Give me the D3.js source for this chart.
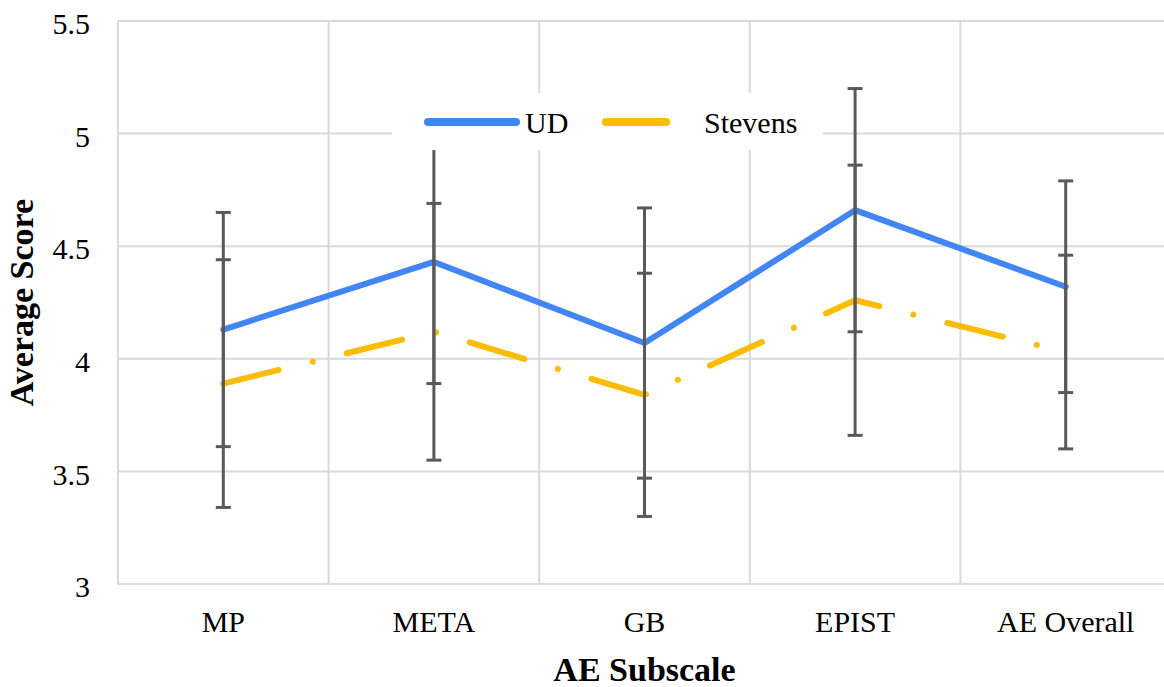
<!DOCTYPE html>
<html>
<head>
<meta charset="utf-8">
<script src="https://cdn.jsdelivr.net/npm/d3@7"></script>
<style>
    body { margin: 0; background: #fff; }
    svg { display: block; }
    svg text { font-family: 'Liberation Serif', 'Times New Roman', serif; fill: #000; }
</style>
</head>
<body>
<svg id="canvas" width="1164" height="687"></svg>
<script>
let categories = ['MP', 'META', 'GB', 'EPIST', 'AE Overall']
let udMeans = [4.13, 4.43, 4.07, 4.66, 4.32]
let udErrors = [0.52, 0.54, 0.60, 0.54, 0.47]
let stevensMeans = [3.89, 4.12, 3.84, 4.26, 4.03]
let stevensErrors = [0.55, 0.57, 0.54, 0.60, 0.43]
let yTicks = [3, 3.5, 4, 4.5, 5, 5.5]
let seriesNames = ['UD', 'Stevens']

let canvas = d3.select('#canvas')

let plotLeft = 118
let plotRight = 1171
let plotTop = 21
let plotBottom = 584

let xScale = d3.scaleBand().domain(categories).range([plotLeft, plotRight]).padding(0)
let yScale = d3.scaleLinear().domain([3, 5.5]).range([plotBottom, plotTop])

let gridColor = '#d9d9d9'
let udColor = '#4285f4'
let stevensColor = '#fbbc04'
let barColor = '#595959'
let serif = "font-family: 'Liberation Serif', 'Times New Roman', serif"

let series = [
    { name: seriesNames[0], means: udMeans, errors: udErrors, color: udColor, dash: null },
    { name: seriesNames[1], means: stevensMeans, errors: stevensErrors, color: stevensColor, dash: '57,35,0.1,35' }
]

let drawGrid = () => {
    canvas.append('g')
        .selectAll('line')
        .data(yTicks)
        .enter()
        .append('line')
        .attr('x1', plotLeft)
        .attr('x2', plotRight)
        .attr('y1', d => yScale(d))
        .attr('y2', d => yScale(d))
        .attr('stroke', gridColor)
        .attr('stroke-width', 2)

    canvas.append('g')
        .selectAll('line')
        .data(categories)
        .enter()
        .append('line')
        .attr('x1', d => xScale(d))
        .attr('x2', d => xScale(d))
        .attr('y1', plotTop)
        .attr('y2', plotBottom)
        .attr('stroke', gridColor)
        .attr('stroke-width', 2)
}

let drawAxes = () => {
    let yAxis = d3.axisLeft(yScale).tickValues(yTicks).tickSize(0).tickPadding(28).tickFormat(d3.format(''))
    let yg = canvas.append('g')
        .attr('transform', `translate(${plotLeft},0)`)
        .call(yAxis)
        .attr('font-family', null)
    yg.select('.domain').remove()
    yg.selectAll('text')
        .attr('style', serif)
        .attr('font-size', 30)
        .attr('dy', '0.42em')

    let xAxis = d3.axisBottom(xScale).tickSize(0).tickPadding(27)
    let xg = canvas.append('g')
        .attr('transform', `translate(0,${plotBottom})`)
        .call(xAxis)
        .attr('font-family', null)
    xg.select('.domain').remove()
    xg.selectAll('text')
        .attr('style', serif)
        .attr('font-size', 30)

    canvas.append('text')
        .attr('x', (plotLeft + plotRight) / 2)
        .attr('y', 681)
        .attr('text-anchor', 'middle')
        .attr('style', serif)
        .attr('font-size', 34)
        .attr('font-weight', 'bold')
        .text('AE Subscale')

    canvas.append('text')
        .attr('transform', `translate(33,${(plotTop + plotBottom) / 2}) rotate(-90)`)
        .attr('text-anchor', 'middle')
        .attr('style', serif)
        .attr('font-size', 34)
        .attr('font-weight', 'bold')
        .text('Average Score')
}

let drawLines = () => {
    let line = d3.line()
        .x((d, i) => xScale(categories[i]) + xScale.bandwidth() / 2)
        .y(d => yScale(d))

    series.forEach(s => {
        canvas.append('path')
            .attr('d', line(s.means))
            .attr('fill', 'none')
            .attr('stroke', s.color)
            .attr('stroke-width', 6)
            .attr('stroke-linecap', 'round')
            .attr('stroke-linejoin', 'round')
            .attr('stroke-dasharray', s.dash)
    })
}

let drawErrorBars = () => {
    let capHalf = 7.5
    series.forEach(s => {
        let bars = canvas.append('g')
            .selectAll('g')
            .data(s.means)
            .enter()
            .append('g')
            .attr('stroke', barColor)
            .attr('stroke-width', 3)

        let cx = (d, i) => xScale(categories[i]) + xScale.bandwidth() / 2

        bars.append('line')
            .attr('x1', cx)
            .attr('x2', cx)
            .attr('y1', (d, i) => yScale(d + s.errors[i]))
            .attr('y2', (d, i) => yScale(d - s.errors[i]))

        bars.append('line')
            .attr('x1', (d, i) => cx(d, i) - capHalf)
            .attr('x2', (d, i) => cx(d, i) + capHalf)
            .attr('y1', (d, i) => yScale(d + s.errors[i]))
            .attr('y2', (d, i) => yScale(d + s.errors[i]))

        bars.append('line')
            .attr('x1', (d, i) => cx(d, i) - capHalf)
            .attr('x2', (d, i) => cx(d, i) + capHalf)
            .attr('y1', (d, i) => yScale(d - s.errors[i]))
            .attr('y2', (d, i) => yScale(d - s.errors[i]))
    })
}

let drawLegend = () => {
    let legend = canvas.append('g')

    legend.append('rect')
        .attr('x', 392)
        .attr('y', 93)
        .attr('width', 431)
        .attr('height', 57)
        .attr('fill', '#fff')

    // line sample, then label
    let items = [
        { x1: 428, x2: 516, tx: 525 },
        { x1: 606, x2: 666, tx: 704 }
    ]
    items.forEach((it, i) => {
        legend.append('line')
            .attr('x1', it.x1)
            .attr('x2', it.x2)
            .attr('y1', 122)
            .attr('y2', 122)
            .attr('stroke', series[i].color)
            .attr('stroke-width', 8)
            .attr('stroke-linecap', 'round')
        legend.append('text')
            .attr('x', it.tx)
            .attr('y', 133)
            .attr('style', serif)
            .attr('font-size', 30)
            .text(series[i].name)
    })
}

drawGrid()
drawAxes()
drawLines()
drawErrorBars()
drawLegend()
</script>
</body>
</html>
